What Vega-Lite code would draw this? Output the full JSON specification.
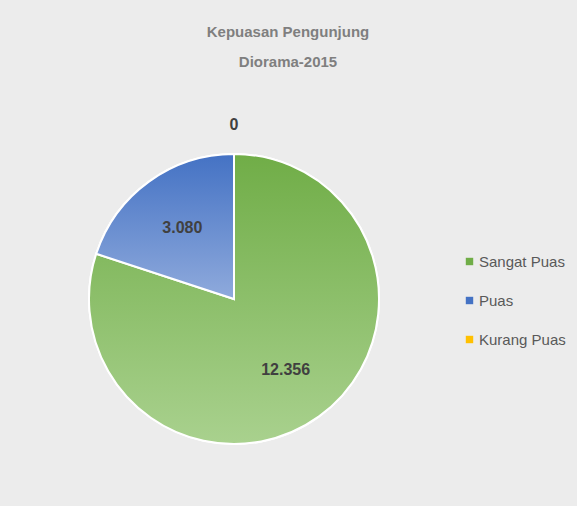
{
  "$schema": "https://vega.github.io/schema/vega-lite/v6.json",
  "autosize": "none",
  "width": 468,
  "height": 340,
  "padding": {"left": 0, "top": 129, "right": 109, "bottom": 37},
  "background": "#ececec",
  "title": {
    "text": ["Kepuasan Pengunjung", "Diorama-2015"],
    "anchor": "middle",
    "dx": 54,
    "offset": 47,
    "fontSize": 15,
    "font": "Liberation Sans",
    "fontWeight": "bold",
    "color": "#7f7f7f",
    "lineHeight": 30
  },
  "data": {
    "values": [
      {"cat": "Sangat Puas", "value": 12356},
      {"cat": "Puas", "value": 3080},
      {"cat": "Kurang Puas", "value": 0}
    ]
  },
  "encoding": {
    "theta": {"field": "value", "type": "quantitative", "stack": true},
    "order": {"field": "value", "type": "quantitative", "sort": "descending"}
  },
  "layer": [
    {
      "mark": {"type": "arc", "outerRadius": 145, "stroke": "white", "strokeWidth": 2},
      "encoding": {
        "color": {
          "field": "cat",
          "type": "nominal",
          "scale": {"domain": ["Sangat Puas", "Puas", "Kurang Puas"], "range": ["#70ad47", "#4472c4", "#ffc000"]},
          "legend": {
            "title": null,
            "orient": "none",
            "legendX": 462,
            "legendY": 125,
            "symbolType": "square",
            "symbolSize": 55,
            "symbolStrokeWidth": 0,
            "labelFont": "Liberation Sans",
            "labelFontSize": 15,
            "labelColor": "#595959",
            "labelOffset": 2,
            "rowPadding": 23
          }
        }
      }
    },
    {
      "mark": {"type": "arc", "outerRadius": 145, "stroke": "white", "strokeWidth": 2},
      "encoding": {
        "fill": {
          "condition": {
            "test": "datum.cat === 'Puas'",
            "value": {"gradient": "linear", "x1": 0, "y1": 0, "x2": 0, "y2": 1, "stops": [{"offset": 0, "color": "#4472c4"}, {"offset": 1, "color": "#8faadc"}]}
          },
          "value": {"gradient": "linear", "x1": 0, "y1": 0, "x2": 0, "y2": 1, "stops": [{"offset": 0, "color": "#70ad47"}, {"offset": 1, "color": "#a9d18e"}]}
        }
      }
    },
    {
      "mark": {"type": "text", "font": "Liberation Sans", "fontWeight": "bold", "fontSize": 16, "color": "#404040"},
      "encoding": {
        "radius": {"value": 88},
        "text": {
          "condition": {"test": "datum.value > 0", "field": "value", "type": "quantitative", "format": ","},
          "value": ""
        }
      }
    },
    {
      "mark": {"type": "text", "font": "Liberation Sans", "fontWeight": "bold", "fontSize": 16, "color": "#404040"},
      "encoding": {
        "radius": {"value": 174},
        "text": {
          "condition": {"test": "datum.value === 0", "field": "value", "type": "quantitative", "format": ","},
          "value": ""
        }
      }
    }
  ],
  "config": {
    "view": {"stroke": null},
    "locale": {"number": {"decimal": ",", "thousands": ".", "grouping": [3], "currency": ["Rp", ""]}}
  }
}
